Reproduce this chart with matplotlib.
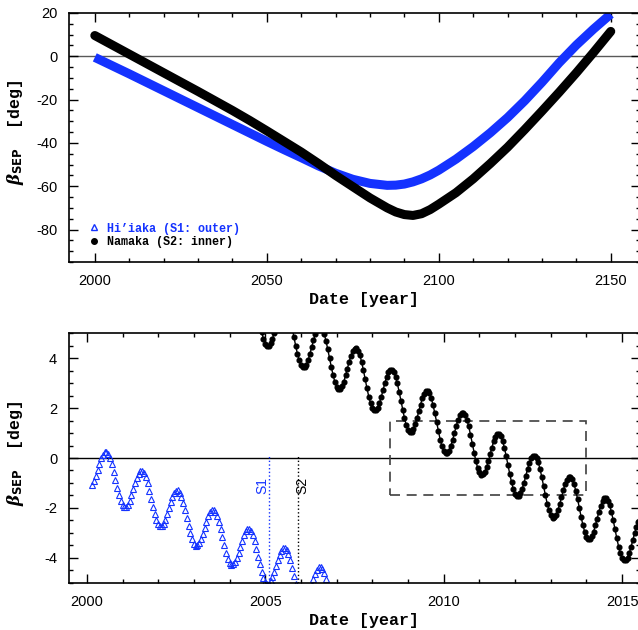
import numpy as np
import matplotlib
matplotlib.use("Agg")
import matplotlib.pyplot as plt
from matplotlib.lines import Line2D
from matplotlib.patches import Rectangle
from matplotlib.ticker import MultipleLocator

plt.rcParams['font.family'] = ['Liberation Sans', 'DejaVu Sans']
plt.rcParams['axes.unicode_minus'] = False
plt.rcParams['mathtext.fontset'] = 'custom'
plt.rcParams['mathtext.it'] = 'DejaVu Serif:italic:bold'
plt.rcParams['mathtext.bf'] = 'DejaVu Sans:bold'
plt.rcParams['mathtext.rm'] = 'DejaVu Sans'

BLUE = '#1432ff'

# ---- top panel: band centre (2000-2150)
long_years = [2000, 2005, 2010, 2015, 2020, 2025, 2030, 2035, 2040, 2045, 2050,
              2055, 2060, 2065, 2070, 2075, 2080, 2085, 2087.5, 2090, 2092.5,
              2095, 2097.5, 2100, 2105, 2110, 2115, 2120, 2125, 2130, 2135,
              2140, 2145, 2150]
hiiaka_long = [-0.5, -4.3, -8.1, -12.0, -15.9, -19.8, -23.7, -27.6, -31.5, -35.4, -39.3,
               -43.1, -46.8, -50.6, -54.0, -56.8, -58.7, -59.6, -59.5, -59.0, -58.0,
               -56.6, -54.8, -52.6, -47.5, -41.7, -35.3, -28.3, -20.5, -12.0, -3.0,
               5.2, 12.6, 19.5]
namaka_long = [9.6, 5.3, 1.0, -3.3, -7.6, -11.9, -16.2, -20.6, -25.0, -29.6, -34.4,
               -39.3, -44.2, -49.5, -55.0, -60.2, -65.4, -70.0, -71.9, -73.1, -73.5,
               -72.7, -70.8, -68.3, -63.0, -56.6, -49.5, -42.0, -33.8, -25.3, -16.6,
               -7.6, 1.8, 11.5]

# ---- bottom panel: sampled every 0.05 yr
step = 0.05
hiiaka_start = 2000.15
hiiaka_short = [
    -1.10, -0.94, -0.72, -0.48, -0.24, -0.02, 0.14, 0.23, 0.24, 0.15,
    -0.01, -0.25, -0.55, -0.87, -1.19, -1.48, -1.72, -1.89, -1.97, -1.96,
    -1.87, -1.71, -1.49, -1.25, -1.01, -0.79, -0.63, -0.54, -0.53, -0.62,
    -0.78, -1.02, -1.32, -1.64, -1.96, -2.25, -2.49, -2.66, -2.74, -2.73,
    -2.64, -2.48, -2.26, -2.02, -1.78, -1.56, -1.40, -1.31, -1.30, -1.39,
    -1.55, -1.79, -2.09, -2.41, -2.73, -3.02, -3.26, -3.43, -3.51, -3.50,
    -3.41, -3.25, -3.03, -2.79, -2.55, -2.33, -2.17, -2.08, -2.07, -2.16,
    -2.32, -2.56, -2.86, -3.18, -3.50, -3.79, -4.03, -4.20, -4.28, -4.27,
    -4.18, -4.02, -3.80, -3.56, -3.32, -3.10, -2.94, -2.85, -2.84, -2.93,
    -3.09, -3.33, -3.63, -3.95, -4.27, -4.56, -4.80, -4.97, -5.05, -5.04,
    -4.95, -4.79, -4.57, -4.33, -4.09, -3.87, -3.71, -3.62, -3.61, -3.70,
    -3.86, -4.10, -4.40, -4.72, -5.04, -5.33, -5.57, -5.74, -5.82, -5.81,
    -5.72, -5.56, -5.34, -5.10, -4.86, -4.64, -4.48, -4.39, -4.38, -4.47,
    -4.63, -4.87, -5.17, -5.49]
namaka_start = 2004.80
namaka_short = [
    5.73, 5.37, 5.04, 4.77, 4.58, 4.49, 4.49, 4.60, 4.78, 5.03, 5.30, 5.58, 5.82, 6.01, 6.11,
    6.12, 6.02, 5.83, 5.56, 5.23, 4.87, 4.51, 4.18, 3.91, 3.72, 3.63, 3.63, 3.74, 3.92, 4.17, 4.44, 4.72, 4.96, 5.15, 5.25,
    5.26, 5.17, 4.98, 4.71, 4.37, 4.01, 3.65, 3.32, 3.05, 2.86, 2.77, 2.78, 2.88, 3.06, 3.31, 3.58, 3.86, 4.10, 4.29, 4.39,
    4.40, 4.31, 4.12, 3.85, 3.52, 3.15, 2.79, 2.46, 2.19, 2.00, 1.91, 1.92, 2.02, 2.21, 2.45, 2.73, 3.00, 3.25, 3.43, 3.53,
    3.54, 3.45, 3.26, 2.99, 2.66, 2.30, 1.93, 1.60, 1.33, 1.14, 1.05, 1.06, 1.16, 1.35, 1.59, 1.87, 2.14, 2.39, 2.57, 2.67,
    2.68, 2.59, 2.40, 2.13, 1.80, 1.44, 1.08, 0.74, 0.47, 0.28, 0.19, 0.20, 0.30, 0.49, 0.73, 1.01, 1.28, 1.53, 1.71, 1.82,
    1.82, 1.73, 1.54, 1.27, 0.94, 0.58, 0.22, -0.12, -0.39, -0.58, -0.67, -0.66, -0.56, -0.37, -0.13, 0.15, 0.42, 0.67, 0.85, 0.96,
    0.96, 0.87, 0.68, 0.41, 0.08, -0.28, -0.64, -0.97, -1.24, -1.43, -1.53, -1.52, -1.42, -1.23, -0.99, -0.71, -0.44, -0.19, -0.01, 0.10,
    0.10, 0.01, -0.18, -0.45, -0.78, -1.14, -1.50, -1.83, -2.10, -2.29, -2.39, -2.38, -2.27, -2.09, -1.85, -1.57, -1.30, -1.05, -0.87, -0.76,
    -0.76, -0.85, -1.04, -1.31, -1.64, -2.00, -2.36, -2.69, -2.96, -3.15, -3.25, -3.24, -3.13, -2.95, -2.70, -2.43, -2.15, -1.91, -1.73, -1.62,
    -1.61, -1.71, -1.90, -2.17, -2.50, -2.86, -3.22, -3.55, -3.82, -4.01, -4.10, -4.10, -3.99, -3.81, -3.56, -3.29, -3.01, -2.77, -2.58, -2.48,
    -2.47]

s1_year, s2_year = 2005.10, 2005.91
box_x, box_y, box_w, box_h = 2008.5, -1.5, 5.5, 3.0

t_hiiaka = hiiaka_start + step * np.arange(len(hiiaka_short))
t_namaka = namaka_start + step * np.arange(len(namaka_short))

fig = plt.figure(figsize=(6.38, 6.30), dpi=100)
ax1 = fig.add_axes([69 / 638, 1 - 262 / 630, 571 / 638, 249 / 630])
ax2 = fig.add_axes([69 / 638, 1 - 582.7 / 630, 571 / 638, 249.4 / 630])

label_font = {'family': 'Liberation Mono', 'weight': 'bold'}
ylab = r'$\beta_{\mathbf{SEP}}$  [deg]'

# top panel
ax1.axhline(0, color='0.35', lw=1, zorder=1)
ax1.plot(long_years, hiiaka_long, color=BLUE, lw=6.5, solid_capstyle='butt')
ax1.plot(long_years, namaka_long, color='black', lw=6.5, solid_capstyle='round')
ax1.set_xlim(1992.5, 2158.5)
ax1.set_ylim(-95, 20)
ax1.xaxis.set_major_locator(MultipleLocator(50))
ax1.xaxis.set_minor_locator(MultipleLocator(10))
ax1.yaxis.set_major_locator(MultipleLocator(20))
ax1.yaxis.set_minor_locator(MultipleLocator(5))

h1 = Line2D([], [], ls='none', marker='^', mfc='none', mec=BLUE, ms=4.5, mew=1)
h2 = Line2D([], [], ls='none', marker='o', color='black', ms=4)
leg = ax1.legend([h1, h2], ["Hi’iaka (S1: outer)", "Namaka (S2: inner)"],
                 loc='lower left', bbox_to_anchor=(0.035, 0.055), frameon=False,
                 prop={'family': 'Liberation Mono', 'weight': 'bold', 'size': 8.5},
                 handlelength=0.8, handletextpad=0.7, labelspacing=0.15,
                 borderpad=0, borderaxespad=0)
leg.get_texts()[0].set_color(BLUE)

# bottom panel
ax2.axhline(0, color='black', lw=1, zorder=1)
ax2.plot(t_namaka, namaka_short, '-o', color='black', lw=1, ms=3.4)
ax2.plot(t_hiiaka, hiiaka_short, ls='none', marker='^', mfc='none', mec=BLUE,
         ms=4.3, mew=0.8)
ax2.vlines(s1_year, -5, 0.1, colors=BLUE, linestyles=':', lw=1)
ax2.vlines(s2_year, -5, 0.1, colors='black', linestyles=':', lw=1)
ax2.text(s1_year + 0.01, -1.1, 'S1', rotation=90, color=BLUE, ha='right',
         va='center', fontsize=10)
ax2.text(s2_year - 0.06, -1.1, 'S2', rotation=90, color='black', ha='left',
         va='center', fontsize=10)
ax2.add_patch(Rectangle((box_x, box_y), box_w, box_h, fill=False,
                        ec='0.25', lw=1.2, ls=(0, (6, 4))))
ax2.set_xlim(1999.5, 2015.5)
ax2.set_ylim(-5, 5)
ax2.xaxis.set_major_locator(MultipleLocator(5))
ax2.xaxis.set_minor_locator(MultipleLocator(1))
ax2.yaxis.set_major_locator(MultipleLocator(2))
ax2.yaxis.set_minor_locator(MultipleLocator(0.5))

for ax in (ax1, ax2):
    ax.tick_params(which='both', direction='in', top=True, right=True,
                   labelsize=10.5, pad=8.5, width=1)
    ax.tick_params(which='major', length=6.5)
    ax.tick_params(which='minor', length=3)
    for sp in ax.spines.values():
        sp.set_linewidth(1.2)
    ax.set_xlabel('Date [year]', fontsize=12, **label_font)
    ax.set_ylabel(ylab, fontsize=12, **label_font)
    ax.xaxis.set_label_coords(0.517, -0.12)
    ax.yaxis.set_label_coords(-0.075, 0.52)
    ax.xaxis.label.set_va('top')

fig.savefig('out.png', dpi=100)
